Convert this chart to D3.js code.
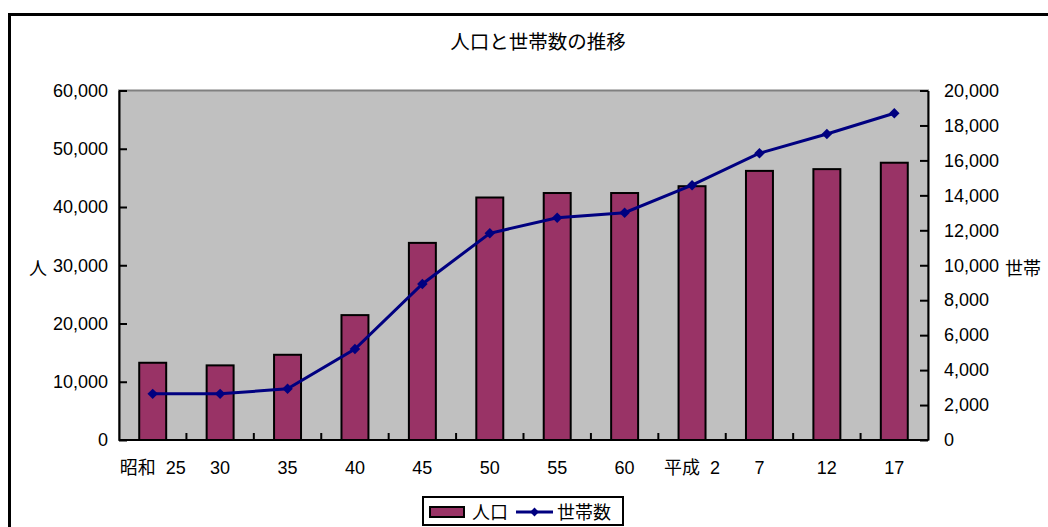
<!DOCTYPE html>
<html>
<head>
<meta charset="utf-8">
<script src="https://cdn.jsdelivr.net/npm/d3@7"></script>
<style>
  html, body { margin: 0; padding: 0; background: #fff; }
  svg { display: block; }
  text { font-family: "Liberation Sans", Arial, "Noto Sans CJK JP", sans-serif; fill: #000; white-space: pre; }
  .cjk { font-family: "Liberation Sans", "Noto Sans CJK JP", sans-serif; }
</style>
</head>
<body>
<svg id="chart" width="1048" height="527"></svg>
<script>
// 年次（和暦）
const categories = ["昭和  25", "30", "35", "40", "45", "50", "55", "60", "平成  2", "7", "12", "17"];
// 人口（人）
const population = [13260, 12810, 14630, 21440, 33840, 41630, 42400, 42400, 43570, 46200, 46500, 47600];
// 世帯数
const households = [2640, 2640, 2930, 5210, 8930, 11830, 12720, 13010, 14580, 16410, 17510, 18700];
// 軸目盛
const leftTicks = [0, 10000, 20000, 30000, 40000, 50000, 60000];
const rightTicks = [0, 2000, 4000, 6000, 8000, 10000, 12000, 14000, 16000, 18000, 20000];

const svg = d3.select("#chart");
const plot = { left: 119, right: 928, top: 90.5, bottom: 440 };

// 外枠
svg.append("rect")
  .attr("x", 9.5).attr("y", 14.5)
  .attr("width", 1100).attr("height", 600)
  .attr("fill", "#fff").attr("stroke", "#000").attr("stroke-width", 3);

// タイトル
svg.append("text").attr("class", "cjk")
  .attr("x", 538).attr("y", 49)
  .attr("text-anchor", "middle")
  .attr("font-size", 19.5)
  .text("人口と世帯数の推移");

const x = d3.scaleBand().domain(categories)
  .range([plot.left, plot.right]).paddingInner(0.6).paddingOuter(0.3);
const yL = d3.scaleLinear().domain([0, 60000]).range([plot.bottom, plot.top]);
const yR = d3.scaleLinear().domain([0, 20000]).range([plot.bottom, plot.top]);

// プロットエリア
svg.append("rect")
  .attr("x", plot.left).attr("y", plot.top)
  .attr("width", plot.right - plot.left).attr("height", plot.bottom - plot.top)
  .attr("fill", "#c0c0c0").attr("stroke", "#808080").attr("stroke-width", 2);

// 人口の棒
svg.append("g").selectAll("rect").data(population).join("rect")
  .attr("x", (d, i) => x(categories[i]))
  .attr("y", d => yL(d))
  .attr("width", x.bandwidth())
  .attr("height", d => yL(0) - yL(d))
  .attr("fill", "#993366").attr("stroke", "#000").attr("stroke-width", 2);

// 世帯数の折れ線
const cx = (d, i) => x(categories[i]) + x.bandwidth() / 2;
svg.append("path").datum(households)
  .attr("fill", "none").attr("stroke", "#000080").attr("stroke-width", 3)
  .attr("d", d3.line().x(cx).y(d => yR(d)));
svg.append("g").selectAll("path").data(households).join("path")
  .attr("transform", (d, i) => `translate(${cx(d, i)},${yR(d)})`)
  .attr("d", d3.symbol(d3.symbolDiamond2, 70))
  .attr("fill", "#000080");

const fmt = d3.format(",");

// 左軸
const gL = svg.append("g").attr("transform", `translate(${plot.left},0)`)
  .call(d3.axisLeft(yL).tickValues(leftTicks).tickFormat(fmt).tickSizeInner(-8).tickSizeOuter(0).tickPadding(11));
// 右軸
const gR = svg.append("g").attr("transform", `translate(${plot.right},0)`)
  .call(d3.axisRight(yR).tickValues(rightTicks).tickFormat(fmt).tickSizeInner(-8).tickSizeOuter(0).tickPadding(16));
[gL, gR].forEach(g => {
  g.select(".domain").attr("stroke", "#000").attr("stroke-width", 2);
  g.selectAll(".tick line").attr("stroke", "#000").attr("stroke-width", 2);
  g.selectAll(".tick text").attr("font-size", 18).attr("fill", "#000")
    .attr("font-family", "'Liberation Sans', Arial, sans-serif");
});

// 横軸
svg.append("line")
  .attr("x1", plot.left).attr("x2", plot.right)
  .attr("y1", plot.bottom).attr("y2", plot.bottom)
  .attr("stroke", "#000").attr("stroke-width", 2);
svg.append("g").selectAll("line").data(categories.slice(1)).join("line")
  .attr("x1", d => x(d) - x.step() * x.paddingInner() / 2)
  .attr("x2", d => x(d) - x.step() * x.paddingInner() / 2)
  .attr("y1", plot.bottom).attr("y2", plot.bottom - 7)
  .attr("stroke", "#000").attr("stroke-width", 2);
svg.append("g").selectAll("text").data(categories).join("text")
  .attr("class", "cjk")
  .attr("x", d => x(d) + x.bandwidth() / 2)
  .attr("y", 474)
  .attr("text-anchor", "middle")
  .attr("font-size", 18)
  .text(d => d);

// 軸ラベル
svg.append("text").attr("class", "cjk")
  .attr("x", 38).attr("y", 275).attr("text-anchor", "middle").attr("font-size", 18).text("人");
svg.append("text").attr("class", "cjk")
  .attr("x", 1005).attr("y", 275).attr("font-size", 18).text("世帯");

// 凡例
const lg = svg.append("g");
lg.append("rect").attr("x", 423).attr("y", 497).attr("width", 200).attr("height", 28)
  .attr("fill", "#fff").attr("stroke", "#000").attr("stroke-width", 2);
lg.append("rect").attr("x", 430).attr("y", 507).attr("width", 34).attr("height", 10)
  .attr("fill", "#993366").attr("stroke", "#000").attr("stroke-width", 2);
lg.append("text").attr("class", "cjk").attr("x", 472).attr("y", 519).attr("font-size", 18).text("人口");
lg.append("line").attr("x1", 516).attr("x2", 553).attr("y1", 512).attr("y2", 512)
  .attr("stroke", "#000080").attr("stroke-width", 3);
lg.append("path").attr("transform", "translate(534.5,512)")
  .attr("d", d3.symbol(d3.symbolDiamond2, 50)).attr("fill", "#000080");
lg.append("text").attr("class", "cjk").attr("x", 557).attr("y", 519).attr("font-size", 18).text("世帯数");
</script>
</body>
</html>
